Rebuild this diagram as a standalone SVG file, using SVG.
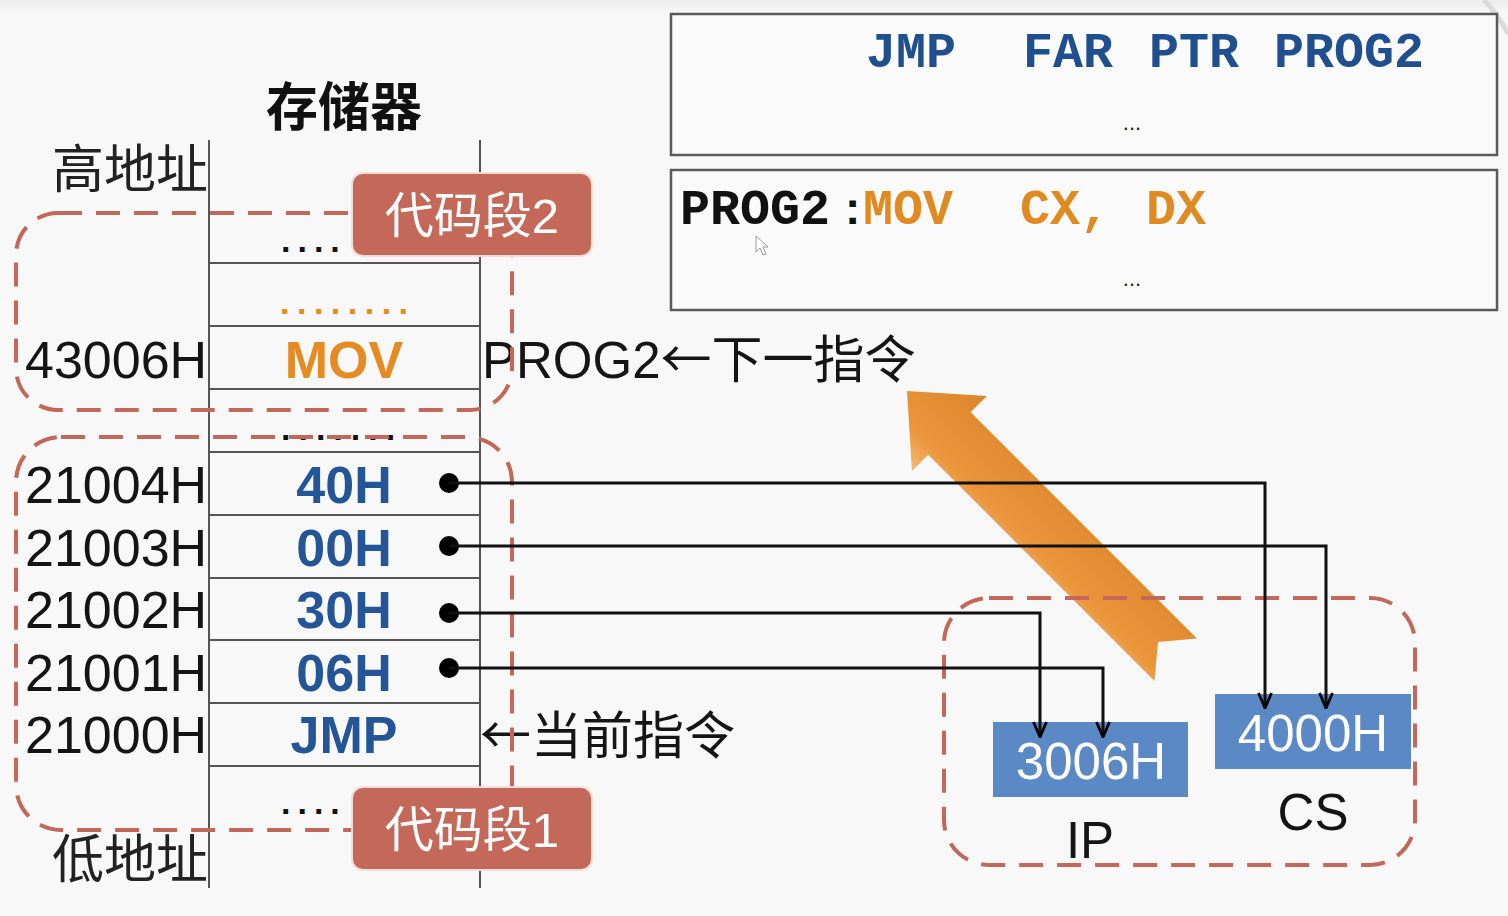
<svg xmlns="http://www.w3.org/2000/svg" width="1508" height="916" viewBox="0 0 1508 916">
  <style>
    .sans { font-family: "Liberation Sans", Arial, "Noto Sans CJK SC", sans-serif; }
    .cjk { font-family: "Liberation Sans", "Noto Sans CJK SC", sans-serif; }
    .arr { font-family: "Noto Sans CJK SC", sans-serif; }
    .mono { font-family: "Liberation Mono", "Courier New", monospace; }
    .addr { font-size: 52px; fill: #151515; }
    .cell { fill: none; stroke: #555; stroke-width: 2; }
    .val { font-size: 52px; font-weight: bold; text-anchor: middle; fill: #245597; }
    .dots { font-size: 34px; font-weight: bold; }
    .seg { fill: none; stroke: #c2675a; stroke-width: 4; stroke-dasharray: 24 14; }
    .tag rect { fill: #c4685a; stroke: #f3ddd8; stroke-width: 2; }
    .tag text { font-size: 49px; fill: #ffffff; text-anchor: middle; }
    .wire { fill: none; stroke: #111; stroke-width: 3; }
    .dot { fill: #000; }
    .reg rect { fill: #5b89c6; }
    .reg text { font-size: 51px; fill: #ffffff; text-anchor: middle; }
    .code-box { fill: #fafafa; stroke: #5a5a5a; stroke-width: 2.5; }
    .code { font-size: 50px; font-weight: bold; }
    .note { font-size: 51px; fill: #151515; }
  </style>
  <defs>
    <marker id="head" viewBox="0 0 18 16" refX="17" refY="8" markerWidth="18" markerHeight="16" markerUnits="userSpaceOnUse" orient="auto">
      <path d="M2 1.5 L17 8 L2 14.5" fill="none" stroke="#000" stroke-width="2.8"/>
    </marker>
    <linearGradient id="arrowFill" x1="0" y1="0" x2="0" y2="1">
      <stop offset="0" stop-color="#f7b874"/>
      <stop offset="0.3" stop-color="#ea953c"/>
      <stop offset="1" stop-color="#dd862b"/>
    </linearGradient>
    <linearGradient id="topBand" x1="0" y1="0" x2="0" y2="1">
      <stop offset="0" stop-color="#ececec"/>
      <stop offset="1" stop-color="#f8f8f8"/>
    </linearGradient>
  </defs>

  <!-- background -->
  <rect x="0" y="0" width="1508" height="916" fill="#f8f8f8"/>
  <rect x="0" y="0" width="1508" height="14" fill="url(#topBand)"/>
  <path d="M1484 0 Q1498 14 1508 34" stroke="#dadada" stroke-width="5" fill="none"/>

  <!-- code listing, first segment -->
  <g id="code-seg1">
    <rect class="code-box" x="671" y="14" width="826" height="141"/>
    <text class="mono code" x="866" y="67" fill="#1f4f8f">JMP</text>
    <text class="mono code" x="1023" y="67" fill="#1f4f8f">FAR</text>
    <text class="mono code" x="1149" y="67" fill="#1f4f8f">PTR</text>
    <text class="mono code" x="1274" y="67" fill="#1f4f8f">PROG2</text>
    <text class="sans" x="1132" y="130" font-size="22" text-anchor="middle" fill="#222">...</text>
  </g>

  <!-- code listing, second segment -->
  <g id="code-seg2">
    <rect class="code-box" x="671" y="170" width="826" height="140"/>
    <text class="mono code" x="680" y="224" fill="#111">PROG2</text>
    <text class="sans" x="845" y="224" font-size="46" font-weight="bold" fill="#111">:</text>
    <text class="mono code" x="863" y="224" fill="#e08a22">MOV</text>
    <text class="mono code" x="1020" y="224" fill="#e08a22">CX,</text>
    <text class="mono code" x="1146" y="224" fill="#e08a22">DX</text>
    <text class="sans" x="1132" y="286" font-size="22" text-anchor="middle" fill="#222">...</text>
    <path d="M756 236 L756 252 L760 248 L763 255 L766 254 L763 247 L768 247 Z" fill="#ffffff" stroke="#9a9a9a" stroke-width="1"/>
  </g>

  <!-- big orange arrow: transfer to PROG2 -->
  <g id="jump-arrow">
    <polygon points="0,0 -60,-53 -60,-30 -380,-30 -355,0 -380,30 -60,30 -60,53" transform="translate(907,391) rotate(225)" fill="url(#arrowFill)"/>
  </g>

  <!-- memory column -->
  <g id="memory">
    <text class="cjk" x="344" y="126" font-size="52" font-weight="bold" text-anchor="middle" fill="#111">存储器</text>
    <text class="cjk" x="208" y="188" font-size="52" text-anchor="end" fill="#222">高地址</text>
    <text class="cjk" x="208" y="878" font-size="52" text-anchor="end" fill="#222">低地址</text>
    <line class="cell" x1="209" y1="140" x2="209" y2="888"/>
    <line class="cell" x1="480" y1="140" x2="480" y2="888"/>
    <line class="cell" x1="209" y1="263" x2="480" y2="263"/>
    <line class="cell" x1="209" y1="326" x2="480" y2="326"/>
    <line class="cell" x1="209" y1="389" x2="480" y2="389"/>
    <line class="cell" x1="209" y1="452" x2="480" y2="452"/>
    <line class="cell" x1="209" y1="515" x2="480" y2="515"/>
    <line class="cell" x1="209" y1="578" x2="480" y2="578"/>
    <line class="cell" x1="209" y1="640" x2="480" y2="640"/>
    <line class="cell" x1="209" y1="703" x2="480" y2="703"/>
    <line class="cell" x1="209" y1="766" x2="480" y2="766"/>

    <text class="sans dots" x="281" y="252" letter-spacing="7" fill="#111">....</text>
    <text class="sans dots" x="280" y="314" letter-spacing="7.5" fill="#e68a22">........</text>
    <text class="sans addr" x="25" y="378">43006H</text>
    <text class="sans val" x="344" y="378" style="fill:#e68a22">MOV</text>
    <text class="sans dots" x="281" y="440" letter-spacing="8" fill="#111">.......</text>

    <text class="sans addr" x="25" y="503">21004H</text>
    <text class="sans val" x="344" y="503">40H</text>
    <text class="sans addr" x="25" y="566">21003H</text>
    <text class="sans val" x="344" y="566">00H</text>
    <text class="sans addr" x="25" y="628">21002H</text>
    <text class="sans val" x="344" y="628">30H</text>
    <text class="sans addr" x="25" y="691">21001H</text>
    <text class="sans val" x="344" y="691">06H</text>
    <text class="sans addr" x="25" y="753">21000H</text>
    <text class="sans val" x="344" y="753">JMP</text>
    <text class="sans dots" x="281" y="814" letter-spacing="7" fill="#111">....</text>
  </g>

  <!-- pointer labels -->
  <g id="labels">
    <text class="cjk note" x="482" y="378">PROG2<tspan class="arr">←</tspan>下一指令</text>
    <text class="cjk note" x="480" y="754"><tspan class="arr">←</tspan>当前指令</text>
  </g>

  <!-- code segment outlines -->
  <g id="segment2">
    <rect class="seg" x="16" y="213" width="496" height="197" rx="42"/>
  </g>
  <g id="segment1">
    <rect class="seg" x="16" y="437" width="496" height="393" rx="45"/>
  </g>
  <g id="registers-frame">
    <rect class="seg" x="944" y="598" width="471" height="267" rx="45"/>
  </g>

  <!-- segment tags -->
  <g id="tag2" class="tag">
    <rect x="352" y="173" width="240" height="83" rx="11"/>
    <text class="cjk" x="472" y="233">代码段2</text>
  </g>
  <g id="tag1" class="tag">
    <rect x="352" y="787" width="240" height="83" rx="11"/>
    <text class="cjk" x="472" y="847">代码段1</text>
  </g>

  <!-- registers -->
  <g id="reg-ip" class="reg">
    <rect x="993" y="722" width="195" height="75"/>
    <text class="sans" x="1091" y="779">3006H</text>
    <text class="sans" x="1090" y="858" font-size="48" style="fill:#151515">IP</text>
  </g>
  <g id="reg-cs" class="reg">
    <rect x="1215" y="694" width="196" height="75"/>
    <text class="sans" x="1313" y="751">4000H</text>
    <text class="sans" x="1313" y="830" font-size="48" style="fill:#151515">CS</text>
  </g>

  <!-- connectors: bytes loaded into CS and IP -->
  <g id="connectors">
    <circle class="dot" cx="449" cy="483" r="10"/>
    <circle class="dot" cx="449" cy="546" r="10"/>
    <circle class="dot" cx="449" cy="613" r="10"/>
    <circle class="dot" cx="449" cy="668" r="10"/>
    <path class="wire" d="M449 483 H1265 V708" marker-end="url(#head)"/>
    <path class="wire" d="M449 546 H1326 V708" marker-end="url(#head)"/>
    <path class="wire" d="M449 613 H1040 V737" marker-end="url(#head)"/>
    <path class="wire" d="M449 668 H1103 V737" marker-end="url(#head)"/>
  </g>
</svg>
